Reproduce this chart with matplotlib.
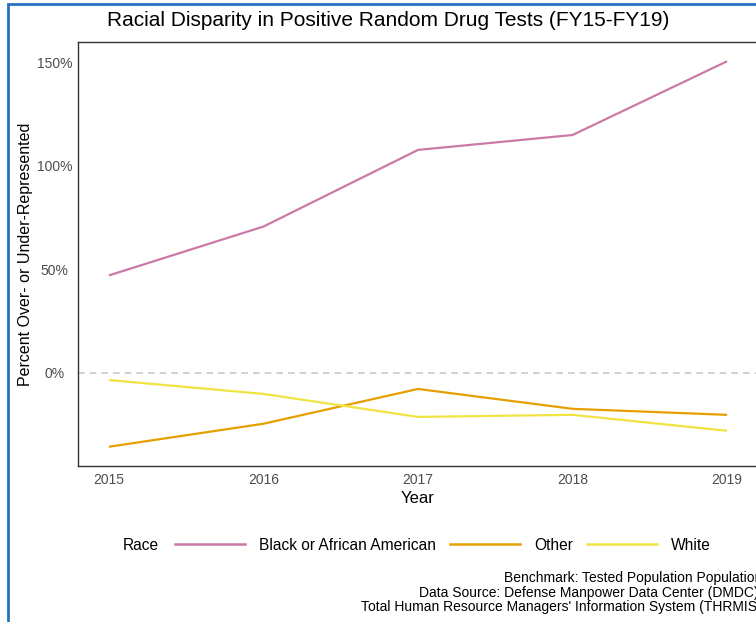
import numpy as np
import matplotlib.pyplot as plt
from matplotlib.lines import Line2D
from matplotlib.patches import Rectangle

plt.rcParams['font.family'] = ['Liberation Sans', 'DejaVu Sans']

years = [2015, 2016, 2017, 2018, 2019]
black = [47.1, 70.7, 107.7, 114.9, 150.5]
other = [-35.6, -24.5, -7.7, -17.3, -20.2]
white = [-3.4, -10.1, -21.2, -20.2, -27.9]

races = ["Black or African American", "Other", "White"]
colors = ["#CC79A7", "#E69F00", "#F0E442"]
yticks = [0, 50, 100, 150]

W, H = 756, 622
fig = plt.figure(figsize=(W / 100, H / 100), dpi=100)

# axes box in pixel coordinates
left, right, top, bottom = 78, 758, 42, 466
ax = fig.add_axes([left / W, 1 - bottom / H, (right - left) / W, (bottom - top) / H])

for vals, c, name in zip([black, other, white], colors, races):
    ax.plot(years, vals, color=c, lw=1.6, label=name, solid_capstyle='butt')

ax.axhline(0, color="#c8c8c8", lw=1.2, ls=(0, (4, 3)), zorder=0)

ax.set_xlim(2014.8, 2019.2)
ax.set_ylim(-44.9, 159.8)
ax.set_xticks(years)
ax.set_yticks(yticks)
ax.set_yticklabels([f"{v}%" for v in yticks], ha="center")
ax.tick_params(length=0, labelsize=10, labelcolor="#4d4d4d")
ax.tick_params(axis="x", pad=5)
ax.tick_params(axis="y", pad=17)
for s in ax.spines.values():
    s.set_color("#333333")
    s.set_linewidth(1.0)

ax.set_xlabel("Year", fontsize=12, labelpad=3)
ax.set_ylabel("Percent Over- or Under-Represented", fontsize=11.5)
ax.yaxis.set_label_coords((33 - left) / (right - left), 0.5)

fig.text(388 / W, 1 - 20 / H, "Racial Disparity in Positive Random Drug Tests (FY15-FY19)",
         fontsize=15, ha="center", va="center")

# legend
fig.text(123 / W, 1 - 545 / H, "Race", fontsize=11.2, ha="left", va="center")
handles = [Line2D([], [], color=c, lw=1.8) for c in colors]
fig.legend(handles, races, loc="center left", bbox_to_anchor=(169 / W, 1 - 545 / H),
           ncol=3, frameon=False, fontsize=11.2, handlelength=4.5,
           handletextpad=0.9, columnspacing=0.9, borderaxespad=0)

caption = ("Benchmark: Tested Population Population\n"
           "Data Source: Defense Manpower Data Center (DMDC),\n"
           "Total Human Resource Managers' Information System (THRMIS)")
fig.text(762 / W, 1 - 571 / H, caption, fontsize=10, ha="right", va="top",
         linespacing=1.05)

# blue frame at left/top edge
fig.add_artist(Rectangle((8 / W, -0.1), 1.2, 1 - 4 / H + 0.1, transform=fig.transFigure,
                         fill=False, edgecolor="#2672c0", lw=2))

fig.savefig("out.png", dpi=100)
